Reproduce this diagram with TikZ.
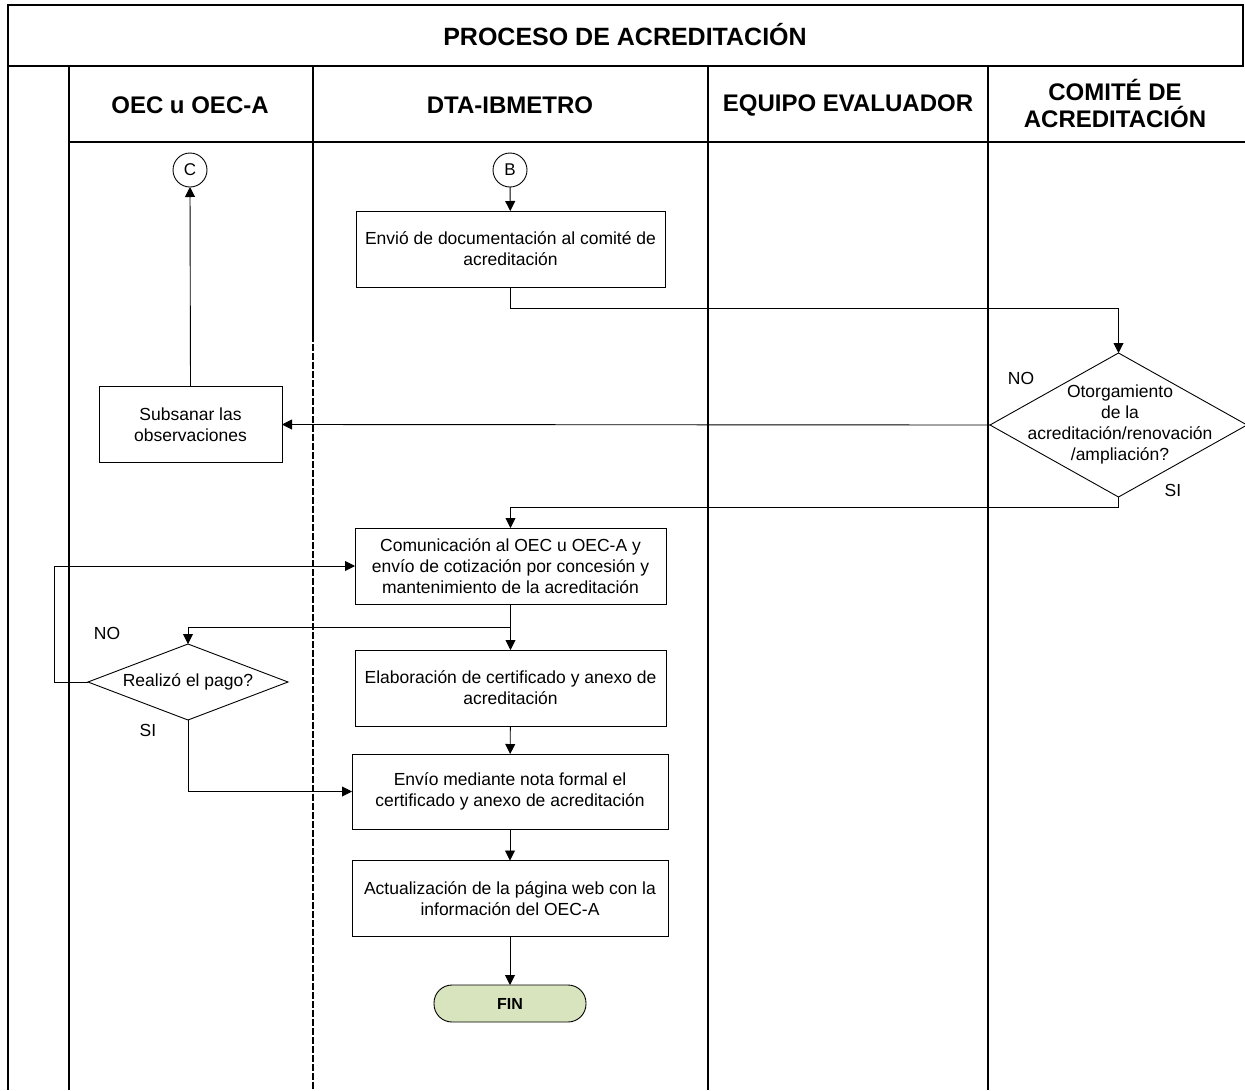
\documentclass[tikz,border=0pt]{standalone}
\usepackage{fontspec}
\setmainfont{Liberation Sans}
\usetikzlibrary{arrows.meta,shapes.geometric,calc}
\definecolor{finfill}{RGB}{215,228,189}
\begin{document}
\begin{tikzpicture}[x=1pt,y=-1pt,
  lane/.style={line width=1.3pt},
  proc/.style={draw, line width=0.9pt, align=center, inner sep=0pt, outer sep=0pt,
    font=\fontsize{17.5}{21}\selectfont},
  dec/.style={draw, diamond, line width=0.9pt, inner sep=0pt, outer sep=0pt},
  conn/.style={draw, circle, line width=0.9pt, minimum size=34pt, inner sep=0pt, outer sep=0pt,
    font=\fontsize{17}{20}\selectfont},
  lbl/.style={font=\fontsize{17.5}{21}\selectfont, inner sep=0pt},
  hdr/.style={font=\fontsize{24}{27}\selectfont\bfseries, align=center, inner sep=0pt},
  arr/.style={line width=0.9pt, -{Triangle[length=10pt,width=10pt]}},
  ln/.style={line width=0.9pt}]
\useasboundingbox (0,0) rectangle (1245,1090);

% frame and lanes
\draw[lane] (8,5) rectangle (1243,66);
\draw[lane] (8,66) -- (8,1090);
\draw[lane] (69,66) -- (69,1090);
\draw[lane] (313,66) -- (313,335);
\draw[lane, dash pattern=on 7pt off 2pt] (313,335) -- (313,1090);
\draw[lane] (708,66) -- (708,1090);
\draw[lane] (988,66) -- (988,1090);
\draw[lane] (69,142) -- (1245,142);

% headers
\node[hdr, font=\fontsize{25}{28}\selectfont\bfseries] (title) at (625,35) {PROCESO DE ACREDITACIÓN};
\node[hdr] (h1) at (190,105) {OEC u OEC-A};
\node[hdr] (h2) at (510,105) {DTA-IBMETRO};
\node[hdr] (h3) at (848,105) {EQUIPO EVALUADOR};
\node[hdr] (h4) at (1115,103) {COMITÉ DE\\ACREDITACIÓN};

% nodes
\node[conn] (C) at (190,170) {C};
\node[conn] (B) at (510,170) {B};
\node[proc, minimum width=309pt, minimum height=76pt] (box1) at (510.5,249)
  {Envió de documentación al comité de\\acreditación};
\node[dec, minimum width=257pt, minimum height=144pt] (d1) at (1118.5,425) {};
\node[lbl, align=center] (d1t) at (1120,424) {Otorgamiento\\de la\\acreditación/renovación\\/ampliación?};
\node[proc, minimum width=183pt, minimum height=76pt] (sub) at (190.5,424.5)
  {Subsanar las\\observaciones};
\node[proc, minimum width=311pt, minimum height=76pt] (box2) at (510.5,566)
  {Comunicación al OEC u OEC-A y\\envío de cotización por concesión y\\mantenimiento de la acreditación};
\node[dec, minimum width=200pt, minimum height=76pt] (d2) at (188,682) {};
\node[lbl] (d2t) at (188,682) {Realizó el pago?};
\node[proc, minimum width=311pt, minimum height=76pt] (box3) at (510.5,688)
  {Elaboración de certificado y anexo de\\acreditación};
\node[proc, minimum width=316pt, minimum height=75pt] (box4) at (510,791.5)
  {Envío mediante nota formal el\\certificado y anexo de acreditación};
\node[proc, minimum width=316pt, minimum height=76pt] (box5) at (510,898.5)
  {Actualización de la página web con la\\información del OEC-A};
\node[draw, line width=0.9pt, fill=finfill, rounded corners=18pt, minimum width=152pt,
  minimum height=37pt, inner sep=0pt, outer sep=0pt,
  font=\fontsize{16}{19}\selectfont\bfseries] (fin) at (510,1003.5) {FIN};

% labels
\node[lbl] (no1) at (1021,378) {NO};
\node[lbl] (si1) at (1173,490) {SI};
\node[lbl] (no2) at (107,633) {NO};
\node[lbl] (si2) at (148,730) {SI};

% connectors
\draw[arr] (B) -- (box1);
\draw[arr] (box1.south) -- ++(0,21) -| (d1.north);
\draw[arr] (d1.west) -- (sub.east);
\draw[arr] (sub.north) -- (C.south);
\draw[arr] (d1.south) -- ++(0,10) -| (box2.north);
\coordinate (split) at ($(box2.south)+(0,23)$);
\draw[ln] (box2.south) -- (split);
\draw[arr] (split) -| (d2.north);
\draw[arr] (split) -- (box3.north);
\draw[arr] (d2.west) -- ++(-34,0) |- (box2.west);
\draw[arr] (d2.south) |- (box4.west);
\draw[arr] (box3) -- (box4);
\draw[arr] (box4) -- (box5);
\draw[arr] (box5) -- (fin);
\end{tikzpicture}
\end{document}
